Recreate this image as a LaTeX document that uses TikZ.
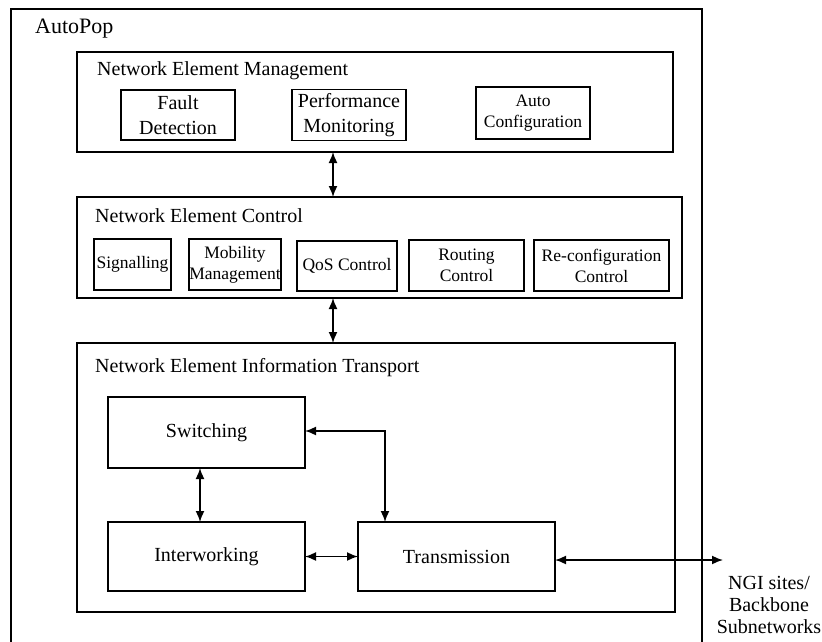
\documentclass[tikz,border=0pt]{standalone}
\usepackage{fontspec}
\setmainfont{Liberation Serif}
\usetikzlibrary{arrows.meta}
\begin{document}
\begin{tikzpicture}[x=1pt,y=-1pt,
  frame/.style={draw=black,line width=1.4pt,inner sep=0pt,outer sep=0pt},
  unitbox/.style={frame,align=center,font=\fontsize{17.5}{21}\selectfont},
  bigbox/.style={frame,align=center,font=\fontsize{20}{25}\selectfont},
  title/.style={anchor=base west,inner sep=0pt,font=\fontsize{20}{24}\selectfont},
  link/.style={line width=1.6pt,{Latex[length=11pt,width=9pt]}-{Latex[length=11pt,width=9pt]}}]
\useasboundingbox (0,0) rectangle (822,642);

% AutoPop enclosure (its lower edge lies below the page)
\draw[line width=1.4pt] (11,642) -- (11,9) -- (702,9) -- (702,642);
\node[title,font=\fontsize{22}{26}\selectfont] (autopop) at (35,34) {AutoPop};

% Network Element Management layer
\node[frame,minimum width=596pt,minimum height=100pt] (nem) at (375,102) {};
\node[title] (nemt) at (97,76) {Network Element Management};
\node[bigbox,minimum width=114pt,minimum height=50pt] (fault) at (178,115) {Fault\\Detection};
\node[bigbox,minimum width=114pt,minimum height=51pt] (perf) at (349,115) {Performance\\Monitoring};
\node[unitbox,minimum width=114pt,minimum height=52pt] (autocfg) at (533,113) {Auto\\Configuration};

% Network Element Control layer
\node[frame,minimum width=605pt,minimum height=101pt] (nec) at (379.5,247.5) {};
\node[title] (nect) at (95,222) {Network Element Control};
\node[unitbox,minimum width=77pt,minimum height=51pt] (sig) at (132.5,264.5) {Signalling};
\node[unitbox,minimum width=92pt,minimum height=51pt] (mob) at (235,264.5) {Mobility\\Management};
\node[unitbox,minimum width=100pt,minimum height=50pt] (qos) at (347,266) {QoS Control};
\node[unitbox,minimum width=115pt,minimum height=51pt] (rout) at (466.5,265.5) {Routing\\Control};
\node[unitbox,minimum width=135pt,minimum height=51pt] (reconf) at (601.5,265.5) {Re-configuration\\Control};

% Network Element Information Transport layer
\node[frame,minimum width=598pt,minimum height=269pt] (neit) at (376,477.5) {};
\node[title] (neitt) at (95,372) {Network Element Information Transport};
\node[bigbox,minimum width=197pt,minimum height=71pt] (sw) at (206.5,432.5) {Switching};
\node[bigbox,minimum width=197pt,minimum height=69pt] (iw) at (206.5,556.5) {Interworking};
\node[bigbox,minimum width=197pt,minimum height=69pt] (tx) at (456.5,556.5) {Transmission};

% External networks
\node[align=center,inner sep=0pt,font=\fontsize{20}{22}\selectfont] (ngi) at (769,605) {NGI sites/\\Backbone\\Subnetworks};
\coordinate (ngiin) at (723,560);

% Connectors
\draw[link] (nem.south -| 333,0) -- (nec.north -| 333,0);
\draw[link] (nec.south -| 333,0) -- (neit.north -| 333,0);
\draw[link] (sw.south -| 200,0) -- (iw.north -| 200,0);
\draw[link] (iw.east) -- (tx.west);
\draw[link] (sw.east |- 0,431) -| (tx.north -| 385,0);
\draw[link] (tx.east |- 0,560) -- (ngiin);
\end{tikzpicture}
\end{document}
